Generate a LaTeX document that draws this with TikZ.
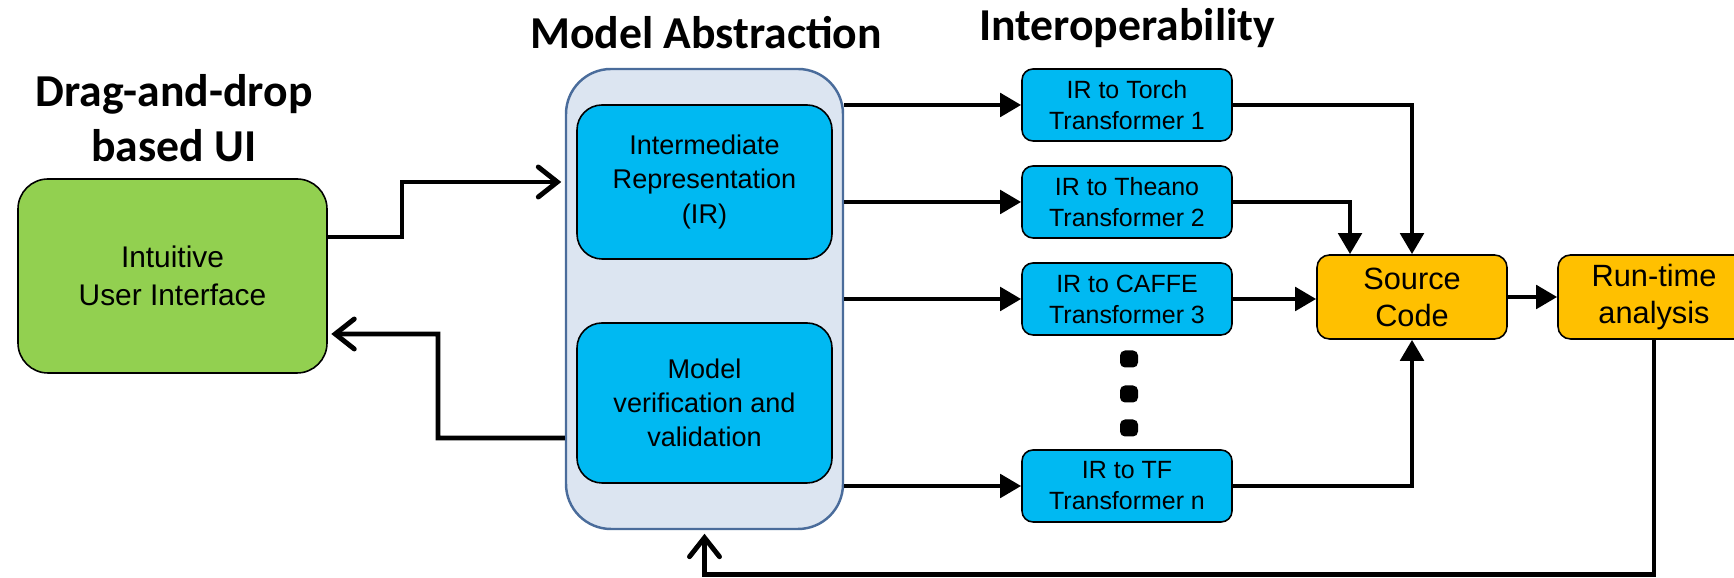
\documentclass[tikz,border=0pt]{standalone}
\usepackage{fontspec}
\setmainfont{Liberation Sans}
\newfontfamily\headfont{Carlito}
\usetikzlibrary{arrows.meta}

\definecolor{uigreen}{HTML}{92D050}
\definecolor{irblue}{HTML}{00B9F2}
\definecolor{srcorange}{HTML}{FFC000}
\definecolor{absfill}{HTML}{DCE5F1}
\definecolor{absline}{HTML}{4A6C9B}

\tikzset{
  box/.style={draw=black, line width=0.9pt, align=center, inner sep=0pt},
  uibox/.style={box, fill=uigreen, rounded corners=0.6cm, minimum width=6.18cm,
    minimum height=3.88cm, font=\fontsize{17}{22}\selectfont},
  irbox/.style={box, fill=irblue, rounded corners=0.5cm, minimum width=5.1cm,
    font=\fontsize{15.4}{19.4}\selectfont},
  transbox/.style={box, fill=irblue, rounded corners=0.22cm, minimum width=4.2cm,
    minimum height=1.44cm, font=\fontsize{14.2}{17.6}\selectfont},
  srcbox/.style={box, fill=srcorange, rounded corners=0.25cm, minimum width=3.8cm,
    minimum height=1.68cm, font=\fontsize{17.5}{21}\selectfont},
  dotmark/.style={fill=black, rounded corners=0.1cm, minimum width=0.36cm,
    minimum height=0.34cm, inner sep=0pt},
  head/.style={align=center, inner sep=0pt, font=\headfont\bfseries\fontsize{26}{31.4}\selectfont},
  flow/.style={line width=2.8pt, -{Triangle[length=0.42cm,width=0.46cm]}},
  back/.style={line width=2.8pt, -{Straight Barb[length=0.38cm,width=0.6cm,line cap=round]}, shorten >=2pt},
}

\begin{document}
\begin{tikzpicture}
  \useasboundingbox (0,0) rectangle (34.68,11.56);
  % Headings
  \node[head] (draglbl) at (3.48,9.19) {Drag-and-drop\\based UI};
  \node[head] (abslbl) at (14.12,10.9) {Model Abstraction};
  \node[head] (interlbl) at (22.54,11.0) {Interoperability};
  % User interface
  \node[uibox] (ui) at (3.45,6.04) {Intuitive\\User Interface};
  % Model abstraction
  \node[draw=absline, line width=1.4pt, fill=absfill, rounded corners=0.9cm,
    minimum width=5.54cm, minimum height=9.2cm] (abs) at (14.09,5.58) {};
  \node[irbox, minimum height=3.08cm] (ir) at (14.09,7.92) {Intermediate\\Representation\\(IR)};
  \node[irbox, minimum height=3.2cm] (mv) at (14.09,3.50) {Model\\verification and\\validation};
  % Transformers
  \node[transbox] (t1) at (22.54,9.46) {IR to Torch\\Transformer 1};
  \node[transbox] (t2) at (22.54,7.52) {IR to Theano\\Transformer 2};
  \node[transbox] (t3) at (22.54,5.58) {IR to CAFFE\\Transformer 3};
  \node[transbox] (tn) at (22.54,1.84) {IR to TF\\Transformer n};
  \node[dotmark] (d1) at (22.58,4.38) {};
  \node[dotmark] (d2) at (22.58,3.68) {};
  \node[dotmark] (d3) at (22.58,3.00) {};
  % Source code and analysis
  \node[srcbox] (src) at (28.24,5.62) {Source\\Code};
  \node[srcbox, minimum width=3.84cm] (rt) at (33.08,5.62) {Run-time\\analysis};
  \coordinate (low) at (0,0.07);

  \draw[back] ([yshift=0.78cm]ui.east) -| (8.04,7.92) -- (abs.west |- ir.west);
  \draw[back] (abs.west |- 0,2.80) -| (8.76,4.88) -- ([yshift=-1.16cm]ui.east);
  \foreach \t in {t1,t2,t3,tn}
    \draw[flow] (abs.east |- \t.west) -- (\t.west);
  \draw[flow] (t1.east) -| (src.north);
  \draw[flow] (t2.east) -| ([xshift=-1.24cm]src.north);
  \draw[flow] (t3.east) -- (src.west |- t3.east);
  \draw[flow] (tn.east) -| (src.south);
  \draw[flow] (src.east) -- (rt.west);
  \draw[back] (rt.south) |- (abs.south |- low) -- (abs.south);
\end{tikzpicture}
\end{document}
